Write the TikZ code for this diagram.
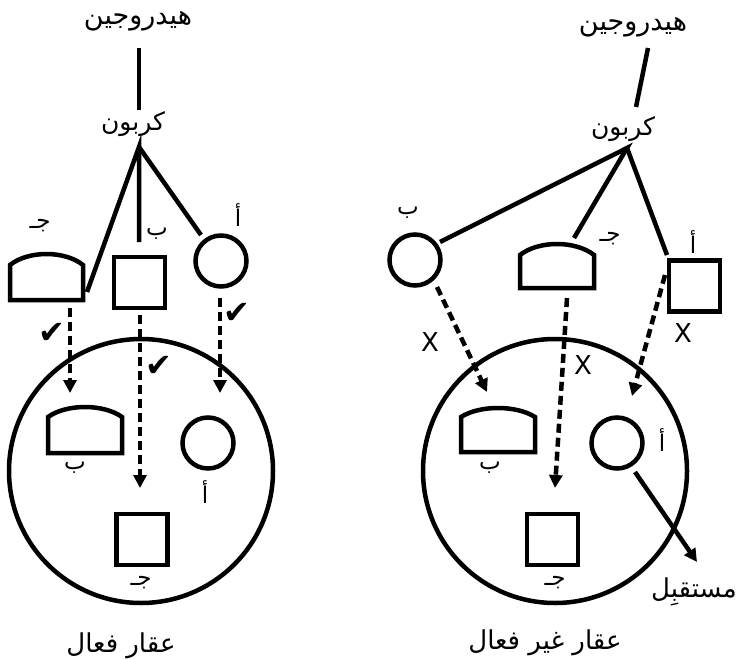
\documentclass[tikz,border=0pt]{standalone}
\usepackage{fontspec}
\TeXXeTstate=1
\newfontfamily\arabicfont[Script=Arabic]{DejaVu Sans}
\newfontfamily\symfont{DejaVu Sans}
\usetikzlibrary{arrows.meta}
\newcommand\drawdome[5]{% x1 x2 ycorner ypeak ybottom
  \pgfmathsetmacro\dw{#2-#1}%
  \pgfmathsetmacro\dh{#3-#4}%
  \draw[shape line] (#1,#5) -- (#1,#3) .. controls ({#1+0.25*\dw},{#3-1.333*\dh}) and ({#2-0.25*\dw},{#3-1.333*\dh}) .. (#2,#3) -- (#2,#5) -- cycle;}
\tikzset{
  shape line/.style={line width=4.5pt, line join=miter},
  ar/.style={font=\arabicfont\fontsize{26}{30}\selectfont, inner sep=0pt},
  hyd/.style={font=\arabicfont\fontsize{27}{32}\selectfont, inner sep=0pt},
  carb/.style={font=\arabicfont\fontsize{25}{30}\selectfont, inner sep=0pt},
  lbl/.style={font=\arabicfont\fontsize{23}{26}\selectfont, inner sep=0pt},
  bond/.style={line width=4.5pt},
  dsh/.style={line width=4.5pt, dash pattern=on 9pt off 5pt, -{Triangle[length=13pt,width=13pt]}},
  solidarrow/.style={line width=4.5pt, -{Triangle[length=13pt,width=13pt]}},
  circnode/.style={circle, draw, line width=4.5pt, minimum size=51pt, inner sep=0pt},
  sqnode/.style={rectangle, draw, line width=4.5pt, minimum size=51pt, inner sep=0pt},
  cellnode/.style={circle, draw, line width=4.5pt, minimum size=264pt, inner sep=0pt},
  okmark/.style={font=\symfont\fontsize{32}{34}\selectfont, inner sep=0pt},
  nomark/.style={font=\symfont\fontsize{26}{28}\selectfont, inner sep=0pt}
}
\begin{document}
\begin{tikzpicture}[x=1pt,y=-1pt]
\useasboundingbox (0,0) rectangle (738,660);
% ---------------- left panel ----------------
\node[hyd] (HL) at (138,21) {\beginR هيدروجين\endR};
\node[carb] (CL) at (133,124) {\beginR كربون\endR};
\coordinate (HLb) at (139,48);
\coordinate (HLe) at (139,110);
\draw[bond] (HLb) -- (HLe);
\coordinate (apexL) at (139,147);
\drawdome{10}{83}{265}{254}{300}
\coordinate (domeLend) at (87,292);
\node[sqnode] (sqL) at (139.5,282.5) {};
\node[circnode] (ciL) at (221,261) {};
\coordinate (sqLend) at (139,242);
\coordinate (ciLend) at (201,235);
\draw[bond] (domeLend) -- (apexL) -- (sqLend);
\draw[bond] (apexL) -- (ciLend);
\node[lbl] (lj1) at (40,226) {\beginR جـ\endR};
\node[lbl] (lb1) at (157,234) {\beginR ب\endR};
\node[lbl] (la1) at (238,215) {\beginR أ\endR};
% cell
\node[cellnode] (cellL) at (141,471) {};
\drawdome{48}{122}{417}{407}{453}
\node[circnode] (ciL2) at (208,443) {};
\node[sqnode] (sqL2) at (142,539.5) {};
\node[lbl] (lb2) at (75,468) {\beginR ب\endR};
\node[lbl] (la2) at (205,492) {\beginR أ\endR};
\node[lbl] (lj2) at (141,583) {\beginR جـ\endR};
% dashed arrows
\coordinate (dL1s) at (70,308); \coordinate (dL1e) at (70,393);
\coordinate (dL2s) at (140,315); \coordinate (dL2e) at (140,488);
\coordinate (dL3s) at (220,298); \coordinate (dL3e) at (220,393);
\draw[dsh] (dL1s) -- (dL1e);
\draw[dsh] (dL2s) -- (dL2e);
\draw[dsh] (dL3s) -- (dL3e);
\node[okmark] (ok1) at (52,333) {✔};
\node[okmark] (ok2) at (237,313) {✔};
\node[okmark] (ok3) at (159,366) {✔};
\node[ar] (tL) at (121,646) {\beginR عقار فعال\endR};
% ---------------- right panel ----------------
\node[hyd] (HR) at (633,27) {\beginR هيدروجين\endR};
\node[carb] (CR) at (623,129) {\beginR كربون\endR};
\coordinate (HRb) at (648,48);
\coordinate (HRe) at (636,107);
\draw[bond] (HRb) -- (HRe);
\coordinate (apexR) at (627,148);
\node[circnode] (ciR) at (415,260) {};
\drawdome{520}{594}{255}{244}{288}
\node[sqnode] (sqR) at (694.5,286) {};
\coordinate (ciRend) at (440,242);
\coordinate (domeRend) at (574,238);
\coordinate (sqRend) at (667,255);
\draw[bond] (ciRend) -- (apexR) -- (domeRend);
\draw[bond] (apexR) -- (sqRend);
\node[lbl] (rb1) at (408,213) {\beginR ب\endR};
\node[lbl] (rj1) at (610,239) {\beginR جـ\endR};
\node[lbl] (ra1) at (693,242) {\beginR أ\endR};
% cell
\node[cellnode] (cellR) at (555,471) {};
\drawdome{461}{535}{417}{408}{452}
\node[circnode] (ciR2) at (617,443) {};
\node[sqnode] (sqR2) at (552.5,539.5) {};
\node[lbl] (rb2) at (490,468) {\beginR ب\endR};
\node[lbl] (ra2) at (662,440) {\beginR أ\endR};
\node[lbl] (rj2) at (555,583) {\beginR جـ\endR};
% dashed arrows
\coordinate (dR1s) at (437,287); \coordinate (dR1e) at (487,392);
\coordinate (dR2s) at (567,298); \coordinate (dR2e) at (555,488);
\coordinate (dR3s) at (665,275); \coordinate (dR3e) at (632,396);
\draw[dsh] (dR1s) -- (dR1e);
\draw[dsh] (dR2s) -- (dR2e);
\draw[dsh] (dR3s) -- (dR3e);
\node[nomark] (no1) at (430,342) {X};
\node[nomark] (no2) at (583,365) {X};
\node[nomark] (no3) at (683,333) {X};
% receptor
\coordinate (recs) at (635,472);
\node[ar, anchor=east] (rec) at (737,592) {\beginR مستقبِل\endR};
\coordinate (rece) at (697,562);
\draw[solidarrow] (recs) -- (rece);
\node[ar] (tR) at (545,643) {\beginR عقار غير فعال\endR};
\end{tikzpicture}
\end{document}
